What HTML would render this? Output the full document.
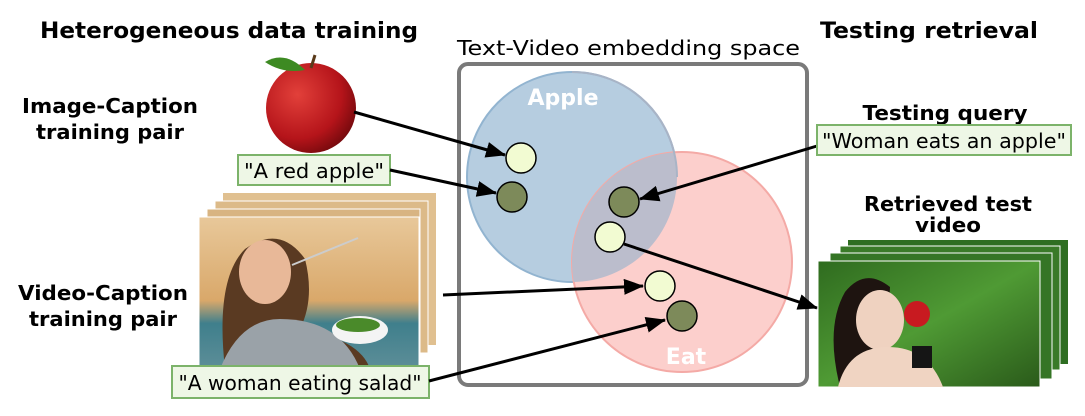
<!DOCTYPE html>
<html><head><meta charset="utf-8"><style>
body{margin:0;background:#fff}
svg{display:block}
text{font-family:"DejaVu Sans","Liberation Sans",sans-serif}
</style></head><body>
<svg width="1085" height="416" viewBox="0 0 1085 416" xmlns="http://www.w3.org/2000/svg">
<defs>
<marker id="a" viewBox="0 0 20 16" refX="19" refY="8" markerWidth="20" markerHeight="16" orient="auto" markerUnits="userSpaceOnUse"><path d="M0,0 L20,8 L0,16 z" fill="#000"/></marker>
<linearGradient id="kit" x1="0" y1="0" x2="0" y2="1"><stop offset="0" stop-color="#e8c89a"/><stop offset="0.55" stop-color="#d9a86a"/><stop offset="0.7" stop-color="#3f7f8c"/><stop offset="1" stop-color="#5d8e98"/></linearGradient>
<linearGradient id="leaf" x1="0" y1="0" x2="1" y2="1"><stop offset="0" stop-color="#2f6b1f"/><stop offset="0.5" stop-color="#4f9a34"/><stop offset="1" stop-color="#2a5a1a"/></linearGradient>
<radialGradient id="ap" cx="0.35" cy="0.35" r="0.7"><stop offset="0" stop-color="#e2403a"/><stop offset="0.7" stop-color="#b5141a"/><stop offset="1" stop-color="#7a0a0e"/></radialGradient>
<clipPath id="bc"><circle cx="572" cy="177" r="105"/></clipPath>
</defs>

<text x="40" y="38" font-size="22" font-weight="bold" textLength="378" lengthAdjust="spacingAndGlyphs">Heterogeneous data training</text>
<text x="820" y="38" font-size="22" font-weight="bold" textLength="218" lengthAdjust="spacingAndGlyphs">Testing retrieval</text>
<text x="457" y="55" font-size="20" textLength="343" lengthAdjust="spacingAndGlyphs">Text-Video embedding space</text>

<text x="110" y="113" font-size="20" font-weight="bold" text-anchor="middle" textLength="176" lengthAdjust="spacingAndGlyphs">Image-Caption</text>
<text x="110" y="139" font-size="20" font-weight="bold" text-anchor="middle" textLength="148" lengthAdjust="spacingAndGlyphs">training pair</text>
<text x="103" y="300" font-size="20" font-weight="bold" text-anchor="middle" textLength="170" lengthAdjust="spacingAndGlyphs">Video-Caption</text>
<text x="103" y="326" font-size="20" font-weight="bold" text-anchor="middle" textLength="148" lengthAdjust="spacingAndGlyphs">training pair</text>

<!-- apple -->
<ellipse cx="311" cy="108" rx="45" ry="45" fill="url(#ap)"/>
<path d="M305,70 q-20,-20 -40,-8 q18,12 40,8z" fill="#3d8a22"/>
<line x1="311" y1="68" x2="315" y2="55" stroke="#5a3a1a" stroke-width="3"/>

<rect x="238" y="155" width="152" height="30" fill="#eef7e6" stroke="#7cb36a" stroke-width="2"/>
<text x="314" y="178" font-size="20" text-anchor="middle" textLength="140" lengthAdjust="spacingAndGlyphs">"A red apple"</text>

<!-- video frames left -->
<rect x="223" y="193" width="213" height="152" fill="#e0c090"/>
<rect x="215" y="201" width="213" height="152" fill="#dcba88" stroke="#fff" stroke-width="1"/>
<rect x="207" y="209" width="213" height="152" fill="#d8b482" stroke="#fff" stroke-width="1"/>
<rect x="199" y="217" width="220" height="152" fill="url(#kit)" stroke="#fff" stroke-width="1"/>
<path d="M225,369 q-10,-90 20,-120 q35,-25 60,10 q10,40 -5,70 q60,10 70,40z" fill="#5a3a22"/>
<ellipse cx="265" cy="272" rx="26" ry="32" fill="#e8b898"/>
<path d="M220,369 q20,-50 60,-50 q60,0 80,50z" fill="#9aa2a8"/>
<ellipse cx="360" cy="330" rx="28" ry="14" fill="#f4f4f4"/>
<ellipse cx="358" cy="325" rx="22" ry="7" fill="#4a8a2a"/>
<line x1="292" y1="265" x2="358" y2="238" stroke="#ccc" stroke-width="2"/>

<rect x="172" y="366" width="257" height="32" fill="#eef7e6" stroke="#7cb36a" stroke-width="2"/>
<text x="300" y="390" font-size="20" text-anchor="middle" textLength="243" lengthAdjust="spacingAndGlyphs">"A woman eating salad"</text>

<!-- embedding box -->
<rect x="459" y="64" width="348" height="321" rx="9" fill="#fff" stroke="#7a7a7a" stroke-width="4"/>
<circle cx="572" cy="177" r="105" fill="#b6cde0" stroke="#92b4d0" stroke-width="2"/>
<circle cx="682" cy="262" r="110" fill="#fccfcc" stroke="#f4aaa6" stroke-width="2"/>
<circle cx="682" cy="262" r="110" fill="#bbbdcc" clip-path="url(#bc)"/>
<path d="M572,72 A105,105 0 0 1 677,177" fill="none" stroke="#a9b4c6" stroke-width="2" clip-path="url(#none)"/>
<text x="563" y="105" font-size="22" font-weight="bold" fill="#fff" text-anchor="middle">Apple</text>
<text x="686" y="364" font-size="22" font-weight="bold" fill="#fff" text-anchor="middle">Eat</text>

<g stroke="#000" stroke-width="1.5">
<circle cx="521" cy="158" r="15" fill="#f2fbd2"/>
<circle cx="512" cy="197" r="15" fill="#7d8a5a"/>
<circle cx="624" cy="202" r="15" fill="#7d8a5a"/>
<circle cx="610" cy="237" r="15" fill="#f2fbd2"/>
<circle cx="660" cy="286" r="15" fill="#f2fbd2"/>
<circle cx="682" cy="316" r="15" fill="#7d8a5a"/>
</g>

<g stroke="#000" stroke-width="3" fill="none">
<line x1="354" y1="112" x2="505" y2="155" marker-end="url(#a)"/>
<line x1="390" y1="170" x2="496" y2="193" marker-end="url(#a)"/>
<line x1="443" y1="295" x2="643" y2="286" marker-end="url(#a)"/>
<line x1="429" y1="381" x2="665" y2="320" marker-end="url(#a)"/>
<line x1="817" y1="146" x2="640" y2="199" marker-end="url(#a)"/>
<line x1="624" y1="244" x2="817" y2="308" marker-end="url(#a)"/>
</g>

<text x="945" y="120" font-size="20" font-weight="bold" text-anchor="middle" textLength="165" lengthAdjust="spacingAndGlyphs">Testing query</text>
<rect x="817" y="125" width="254" height="30" fill="#eef7e6" stroke="#7cb36a" stroke-width="2"/>
<text x="944" y="148" font-size="20" text-anchor="middle" textLength="244" lengthAdjust="spacingAndGlyphs">"Woman eats an apple"</text>

<text x="948" y="211" font-size="20" font-weight="bold" text-anchor="middle" textLength="168" lengthAdjust="spacingAndGlyphs">Retrieved test</text>
<text x="948" y="232" font-size="20" font-weight="bold" text-anchor="middle" textLength="66" lengthAdjust="spacingAndGlyphs">video</text>

<rect x="848" y="240" width="220" height="124" fill="#2f6e22"/>
<rect x="840" y="246" width="220" height="124" fill="#3a7a28" stroke="#fff"/>
<rect x="830" y="253" width="222" height="126" fill="#357525" stroke="#fff"/>
<rect x="818" y="261" width="222" height="126" fill="url(#leaf)" stroke="#fff"/>
<path d="M840,387 q-15,-60 5,-95 q20,-25 45,-5 l-5,95z" fill="#1e1410"/>
<ellipse cx="880" cy="320" rx="24" ry="30" fill="#efd2c0"/>
<path d="M838,387 q10,-40 50,-40 q40,0 55,40z" fill="#f0d4c2"/>
<circle cx="917" cy="314" r="13" fill="#c81a20"/>
<rect x="912" y="346" width="20" height="22" fill="#151515"/>
</svg>
</body></html>
